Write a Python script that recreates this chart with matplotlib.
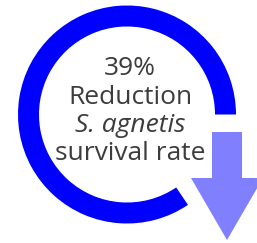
import matplotlib.pyplot as plt
from matplotlib.patches import Wedge, Polygon

reduction_pct = 39
ring_start_deg = 0      # right side, 3 o'clock
ring_end_deg = 304      # counterclockwise, stops before bottom-right
text_lines = [f"{reduction_pct}%", "Reduction", "S. agnetis", "survival rate"]
text_styles = ["normal", "normal", "italic", "normal"]

W, H = 257, 243
fig = plt.figure(figsize=(W / 100, H / 100), dpi=100)
ax = fig.add_axes([0, 0, 1, 1])
ax.set_xlim(0, W)
ax.set_ylim(H, 0)  # image coordinates, y down
ax.axis('off')

# ring (angles flipped because y axis is inverted)
cx, cy, r_out, ring_w = 127, 114.5, 109, 21
ring = Wedge((cx, cy), r_out, 360 - ring_end_deg, 360 - ring_start_deg,
             width=ring_w, facecolor='#0000ff', edgecolor='none')
ax.add_patch(ring)

# down arrow
ax_c = 227
shaft_hw, head_hw = 15, 36
shaft_top, head_base, tip = 132, 178, 240
arrow = Polygon([(ax_c - shaft_hw, shaft_top), (ax_c + shaft_hw, shaft_top),
                 (ax_c + shaft_hw, head_base), (ax_c + head_hw, head_base),
                 (ax_c, tip), (ax_c - head_hw, head_base),
                 (ax_c - shaft_hw, head_base)],
                closed=True, facecolor='#8080ff', edgecolor='none')
ax.add_patch(arrow)

baselines = [75, 104, 132, 160]
for txt, st, yb in zip(text_lines, text_styles, baselines):
    ax.text(130, yb, txt, ha='center', va='baseline', fontsize=19,
            fontstyle=st, fontweight='medium', color='#3c3c3c',
            family='Open Sans')

fig.savefig('out.png', dpi=100)
